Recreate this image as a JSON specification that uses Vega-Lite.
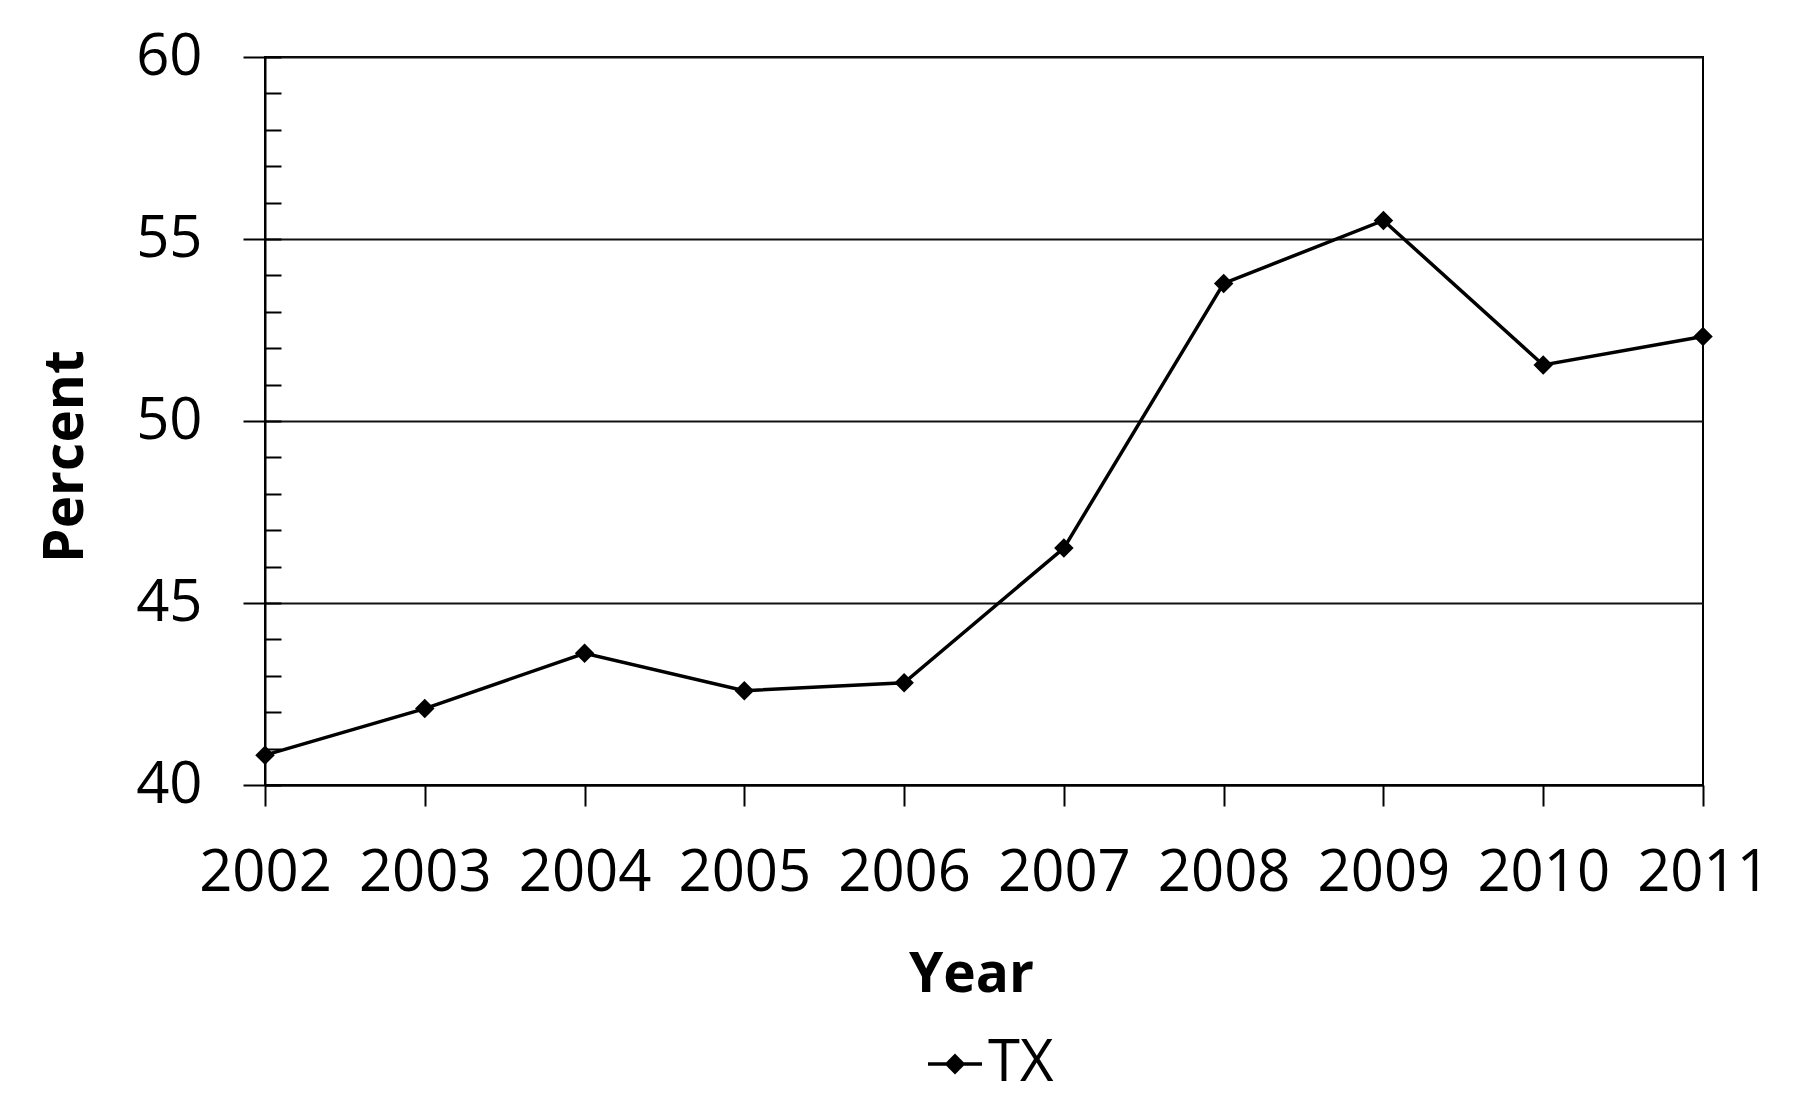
{
  "$schema": "https://vega.github.io/schema/vega-lite/v6.json",
  "width": 1438,
  "height": 728,
  "autosize": {"type": "none"},
  "padding": {"left": 265, "top": 57, "right": 104, "bottom": 335},
  "background": "white",
  "config": {
    "font": "Open Sans",
    "view": {"stroke": "#000000", "strokeWidth": 2},
    "axis": {"domainColor": "#000000", "domainWidth": 2, "tickColor": "#000000", "tickWidth": 2, "labelColor": "#000000", "titleColor": "#000000"}
  },
  "data": {
    "values": [
      {"year": "2002", "pct": 40.82, "series": "TX"},
      {"year": "2003", "pct": 42.10, "series": "TX"},
      {"year": "2004", "pct": 43.62, "series": "TX"},
      {"year": "2005", "pct": 42.59, "series": "TX"},
      {"year": "2006", "pct": 42.81, "series": "TX"},
      {"year": "2007", "pct": 46.51, "series": "TX"},
      {"year": "2008", "pct": 53.78, "series": "TX"},
      {"year": "2009", "pct": 55.51, "series": "TX"},
      {"year": "2010", "pct": 51.54, "series": "TX"},
      {"year": "2011", "pct": 52.32, "series": "TX"}
    ]
  },
  "layer": [
    {
      "mark": {"type": "line", "color": "#000000", "strokeWidth": 3.5},
      "encoding": {
        "x": {
          "field": "year", "type": "ordinal",
          "scale": {"padding": 0},
          "axis": {
            "title": "Year", "titleFontSize": 55, "titleFontWeight": "bold",
            "titleX": 706, "titleY": 206, "titleBaseline": "alphabetic", "titleAlign": "center",
            "labelAngle": 0, "labelFontSize": 58, "labelBaseline": "alphabetic", "labelPadding": 84,
            "tickSize": 21, "grid": false
          }
        },
        "y": {
          "field": "pct", "type": "quantitative",
          "scale": {"domain": [40, 60], "nice": false, "zero": false},
          "axis": {
            "orient": "left",
            "values": [40, 45, 50, 55, 60],
            "title": "Percent", "titleFontSize": 55, "titleFontWeight": "bold",
            "titleX": -183, "titleY": 399, "titleAngle": 270, "titleBaseline": "alphabetic", "titleAlign": "center",
            "labelFontSize": 58, "labelPadding": 41, "tickSize": 22,
            "grid": true, "gridColor": "#111111", "gridWidth": 2
          }
        }
      }
    },
    {
      "mark": {"type": "point", "shape": "diamond", "filled": true, "size": 380, "opacity": 1},
      "encoding": {
        "x": {"field": "year", "type": "ordinal"},
        "y": {
          "field": "pct", "type": "quantitative",
          "axis": {
            "orient": "left",
            "values": [40, 41, 42, 43, 44, 45, 46, 47, 48, 49, 50, 51, 52, 53, 54, 55, 56, 57, 58, 59, 60],
            "title": null, "labels": false, "domain": false, "grid": false, "tickSize": -16
          }
        },
        "color": {
          "field": "series", "type": "nominal",
          "scale": {"range": ["#000000"]},
          "legend": {
            "title": null, "orient": "none", "legendX": 661, "legendY": 978,
            "padding": 0, "labelFontSize": 58, "labelColor": "#000000", "labelOffset": 4,
            "symbolType": "M-1,0L1,0M0,-0.3L0.3,0L0,0.3L-0.3,0Z",
            "symbolSize": 2916, "symbolStrokeWidth": 3.3,
            "symbolFillColor": "#000000", "symbolStrokeColor": "#000000",
            "encode": {"symbols": {"update": {"fill": {"value": "#000000"}, "stroke": {"value": "#000000"}, "strokeWidth": {"value": 3.3}, "opacity": {"value": 1}}}}
          }
        }
      }
    }
  ],
  "resolve": {"axis": {"y": "independent"}}
}
